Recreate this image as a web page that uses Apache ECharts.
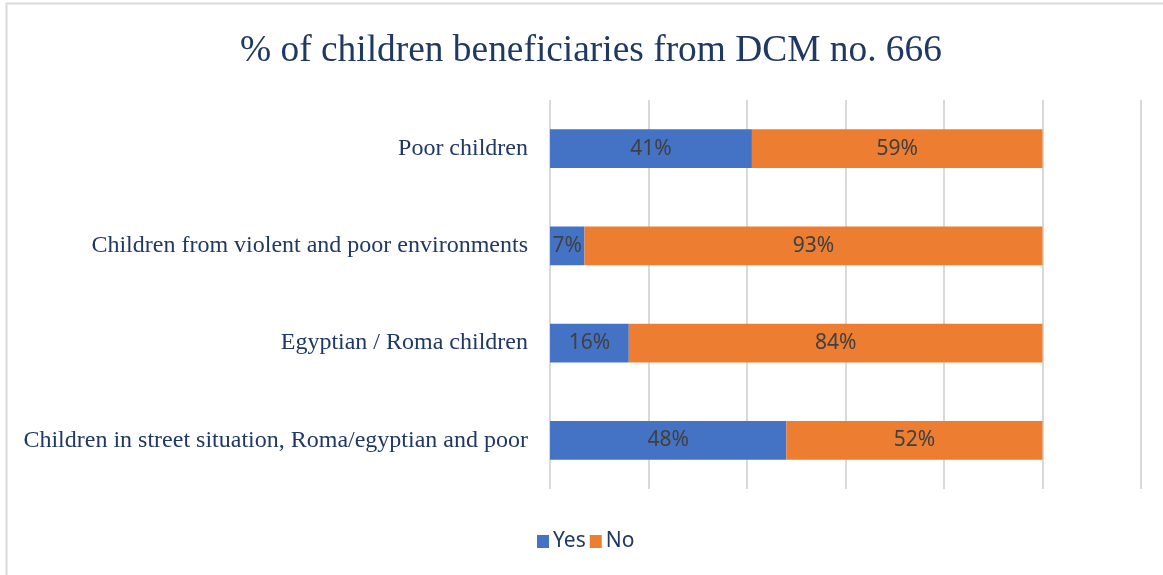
<!DOCTYPE html>
<html>
<head>
<meta charset="utf-8">
<script src="https://cdn.jsdelivr.net/npm/echarts@6/dist/echarts.min.js"></script>
<style>
  html, body { margin: 0; padding: 0; background: #ffffff; }
  #chart { width: 1163px; height: 575px; }
</style>
</head>
<body>
<div id="chart"></div>
<script>
// Categories listed bottom-to-top for the horizontal category axis
const categories = [
  'Children in street situation, Roma/egyptian and poor',
  'Egyptian / Roma children',
  'Children from violent and poor environments',
  'Poor children'
];
const yesValues = [48, 16, 7, 41];
const noValues = [52, 84, 93, 59];
const seriesNames = ['Yes', 'No'];

const chart = echarts.init(document.getElementById('chart'), null, { renderer: 'canvas' });

const sansFont = "'Liberation Sans Narrow', 'Noto Sans', sans-serif";

const labelStyle = {
  show: true,
  position: 'inside',
  formatter: p => p.value + '%',
  color: '#404040',
  fontFamily: sansFont,
  fontSize: 21
};

chart.setOption({
  backgroundColor: '#ffffff',
  animation: false,
  title: {
    text: '% of children beneficiaries from DCM no. 666',
    left: 235,
    top: 28,
    textStyle: {
      fontFamily: 'Liberation Serif',
      fontWeight: 'normal',
      fontSize: 37.4,
      color: '#1f3864'
    }
  },
  legend: {
    data: seriesNames,
    top: 526,
    left: 532,
    itemWidth: 12,
    itemHeight: 13,
    itemGap: 4,
    icon: 'rect',
    textStyle: {
      fontFamily: sansFont,
      fontSize: 21,
      color: '#1f3864',
      padding: [0, 0, 0, -1]
    }
  },
  graphic: [{
    type: 'rect',
    shape: { x: 6.5, y: 3.5, width: 1200, height: 600 },
    style: { fill: 'none', stroke: '#d9d9d9', lineWidth: 2 },
    silent: true,
    z: -1
  }],
  grid: {
    left: 550,
    right: 22,
    top: 100,
    bottom: 86,
    containLabel: false
  },
  xAxis: {
    type: 'value',
    min: 0,
    max: 120,
    interval: 20,
    axisLabel: { show: false },
    axisLine: { show: false },
    axisTick: { show: false },
    splitLine: { show: true, lineStyle: { color: '#d9d9d9', width: 2 } }
  },
  yAxis: {
    type: 'category',
    data: categories,
    axisLine: { show: false },
    axisTick: { show: false },
    axisLabel: {
      margin: 22,
      fontFamily: 'Liberation Serif',
      fontSize: 24,
      color: '#1f3864'
    }
  },
  series: [
    {
      name: seriesNames[0],
      type: 'bar',
      stack: 'total',
      barWidth: '40%',
      data: yesValues,
      itemStyle: { color: '#4472c4' },
      label: labelStyle
    },
    {
      name: seriesNames[1],
      type: 'bar',
      stack: 'total',
      barWidth: '40%',
      data: noValues,
      itemStyle: { color: '#ed7d31' },
      label: labelStyle
    }
  ]
});
</script>
</body>
</html>
